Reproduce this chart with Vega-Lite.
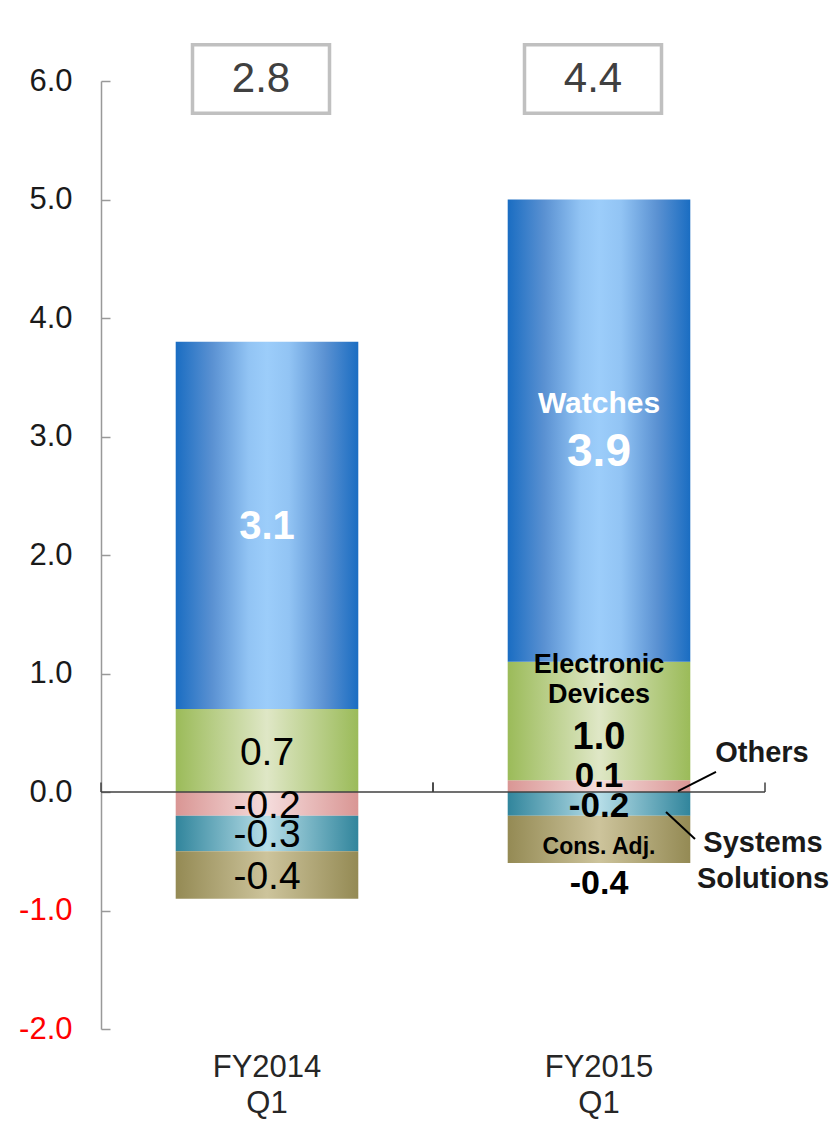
{
  "$schema": "https://vega.github.io/schema/vega-lite/v6.json",
  "width": 664,
  "height": 948,
  "autosize": {"type": "none"},
  "padding": {"left": 101, "top": 81, "right": 66, "bottom": 93},
  "background": "white",
  "config": {
    "view": {"stroke": null},
    "font": "Liberation Sans",
    "locale": {
      "number": {"decimal": ".", "thousands": ",", "grouping": [3], "currency": ["$", ""], "minus": "-"}
    }
  },
  "datasets": {
    "segments": [
      {"period": "FY2014 Q1", "segment": "Others", "value": -0.2, "stack_order": 1},
      {"period": "FY2014 Q1", "segment": "Electronic Devices", "value": 0.7, "stack_order": 2},
      {"period": "FY2014 Q1", "segment": "Systems Solutions", "value": -0.3, "stack_order": 2},
      {"period": "FY2014 Q1", "segment": "Watches", "value": 3.1, "stack_order": 3},
      {"period": "FY2014 Q1", "segment": "Cons. Adj.", "value": -0.4, "stack_order": 3},
      {"period": "FY2015 Q1", "segment": "Others", "value": 0.1, "stack_order": 1},
      {"period": "FY2015 Q1", "segment": "Electronic Devices", "value": 1.0, "stack_order": 2},
      {"period": "FY2015 Q1", "segment": "Systems Solutions", "value": -0.2, "stack_order": 2},
      {"period": "FY2015 Q1", "segment": "Watches", "value": 3.9, "stack_order": 3},
      {"period": "FY2015 Q1", "segment": "Cons. Adj.", "value": -0.4, "stack_order": 3}
    ],
    "totals": [
      {"period": "FY2014 Q1", "total": 2.8},
      {"period": "FY2015 Q1", "total": 4.4}
    ]
  },
  "layer": [
    {
      "data": {"name": "segments"},
      "transform": [
        {"stack": "value", "groupby": ["period"], "sort": [{"field": "stack_order", "order": "ascending"}], "as": ["v0", "v1"]}
      ],
      "mark": {"type": "bar", "width": {"band": 0.55}},
      "encoding": {
        "x": {
          "field": "period", "type": "nominal", "sort": ["FY2014 Q1", "FY2015 Q1"],
          "scale": {"paddingInner": 0, "paddingOuter": 0},
          "axis": {
            "title": null, "domain": false, "ticks": false, "labelAngle": 0,
            "labelFont": "Liberation Sans", "labelFontSize": 31, "labelColor": "#262626",
            "labelPadding": 23, "labelLineHeight": 36,
            "labelExpr": "split(datum.label, ' ')"
          }
        },
        "y": {
          "field": "v1", "type": "quantitative",
          "scale": {"domain": [-2, 6], "nice": false, "zero": false},
          "axis": {
            "title": null, "values": [-2, -1, 0, 1, 2, 3, 4, 5, 6], "format": ".1f", "grid": false,
            "domainColor": "#999999", "domainWidth": 1.5,
            "tickColor": "#999999", "tickWidth": 1.5, "tickSize": -9,
            "labelFont": "Liberation Sans", "labelFontSize": 31, "labelPadding": 38,
            "labelColor": {"condition": {"test": "datum.value < 0", "value": "#ff0000"}, "value": "#1a1a1a"}
          }
        },
        "y2": {"field": "v0"},
        "fill": {
          "condition": [
            {"test": "datum.segment === 'Watches'", "value": {"gradient": "linear", "x1": 0, "y1": 0, "x2": 1, "y2": 0, "stops": [
              {"offset": 0, "color": "#1a6dc2"}, {"offset": 0.2, "color": "#5a91d2"}, {"offset": 0.4, "color": "#92c4f4"},
              {"offset": 0.5, "color": "#9ccdfa"}, {"offset": 0.62, "color": "#92c4f4"}, {"offset": 0.82, "color": "#5a91d2"}, {"offset": 1, "color": "#1a6dc2"}]}},
            {"test": "datum.segment === 'Electronic Devices'", "value": {"gradient": "linear", "x1": 0, "y1": 0, "x2": 1, "y2": 0, "stops": [
              {"offset": 0, "color": "#9bbb59"}, {"offset": 0.5, "color": "#dfe7c6"}, {"offset": 1, "color": "#9bbb59"}]}},
            {"test": "datum.segment === 'Others'", "value": {"gradient": "linear", "x1": 0, "y1": 0, "x2": 1, "y2": 0, "stops": [
              {"offset": 0, "color": "#d99694"}, {"offset": 0.5, "color": "#f5dcdc"}, {"offset": 1, "color": "#d99694"}]}},
            {"test": "datum.segment === 'Systems Solutions'", "value": {"gradient": "linear", "x1": 0, "y1": 0, "x2": 1, "y2": 0, "stops": [
              {"offset": 0, "color": "#31859c"}, {"offset": 0.5, "color": "#b7dee8"}, {"offset": 1, "color": "#31859c"}]}}
          ],
          "value": {"gradient": "linear", "x1": 0, "y1": 0, "x2": 1, "y2": 0, "stops": [
            {"offset": 0, "color": "#948a54"}, {"offset": 0.5, "color": "#cdc49c"}, {"offset": 1, "color": "#948a54"}]}
        }
      }
    },
    {
      "data": {"values": [{}]},
      "mark": {"type": "rule", "color": "#404040", "strokeWidth": 1.5},
      "encoding": {"y": {"datum": 0, "type": "quantitative"}}
    },
    {
      "data": {"name": "totals"},
      "layer": [
        {
          "mark": {"type": "rule", "color": "#404040", "strokeWidth": 1.5},
          "encoding": {
            "x": {"field": "period", "type": "nominal", "bandPosition": 0},
            "y": {"datum": 0, "type": "quantitative"},
            "y2": {"datum": 0.08}
          }
        },
        {
          "mark": {"type": "rule", "color": "#404040", "strokeWidth": 1.5},
          "encoding": {
            "x": {"field": "period", "type": "nominal", "bandPosition": 1},
            "y": {"datum": 0, "type": "quantitative"},
            "y2": {"datum": 0.08}
          }
        }
      ]
    },
    {
      "data": {"values": [{}]},
      "layer": [
        {
          "mark": {"type": "rule", "color": "#000000", "strokeWidth": 2, "xOffset": 79, "x2Offset": 117},
          "encoding": {
            "x": {"datum": "FY2015 Q1", "type": "nominal"},
            "x2": {"datum": "FY2015 Q1"},
            "y": {"datum": 0.008, "type": "quantitative"},
            "y2": {"datum": 0.169}
          }
        },
        {
          "mark": {"type": "rule", "color": "#000000", "strokeWidth": 2, "xOffset": 67, "x2Offset": 96},
          "encoding": {
            "x": {"datum": "FY2015 Q1", "type": "nominal"},
            "x2": {"datum": "FY2015 Q1"},
            "y": {"datum": -0.169, "type": "quantitative"},
            "y2": {"datum": -0.397}
          }
        }
      ]
    },
    {
      "data": {"name": "segments"},
      "transform": [
        {"stack": "value", "groupby": ["period"], "sort": [{"field": "stack_order", "order": "ascending"}], "as": ["v0", "v1"]},
        {"fold": ["v0", "v1"], "as": ["edge", "pos"]},
        {"aggregate": [{"op": "mean", "field": "pos", "as": "mid"}], "groupby": ["period", "segment", "value"]}
      ],
      "encoding": {
        "x": {"field": "period", "type": "nominal"},
        "y": {"field": "mid", "type": "quantitative", "title": null}
      },
      "layer": [
        {
          "transform": [{"filter": "datum.period === 'FY2014 Q1' && datum.segment === 'Watches'"}],
          "mark": {"type": "text", "fontSize": 40, "fontWeight": "bold", "color": "white", "baseline": "middle", "dy": 2},
          "encoding": {"text": {"field": "value", "type": "quantitative", "format": ".1f"}}
        },
        {
          "transform": [{"filter": "datum.period === 'FY2014 Q1' && datum.segment !== 'Watches'"}],
          "mark": {"type": "text", "fontSize": 39, "color": "#000000", "baseline": "middle", "dy": 2},
          "encoding": {"text": {"field": "value", "type": "quantitative", "format": ".1f"}}
        },
        {
          "transform": [{"filter": "datum.period === 'FY2015 Q1' && datum.segment === 'Watches'"}],
          "mark": {"type": "text", "fontSize": 46, "fontWeight": "bold", "color": "white", "baseline": "middle", "dy": 21},
          "encoding": {"text": {"field": "value", "type": "quantitative", "format": ".1f"}}
        },
        {
          "transform": [{"filter": "datum.period === 'FY2015 Q1' && datum.segment === 'Watches'"}],
          "mark": {"type": "text", "fontSize": 30, "fontWeight": "bold", "color": "white", "baseline": "middle", "dy": -27},
          "encoding": {"text": {"field": "segment", "type": "nominal"}}
        },
        {
          "transform": [{"filter": "datum.period === 'FY2015 Q1' && datum.segment === 'Electronic Devices'"}],
          "mark": {"type": "text", "fontSize": 38, "fontWeight": "bold", "color": "#000000", "baseline": "middle", "dy": 17},
          "encoding": {"text": {"field": "value", "type": "quantitative", "format": ".1f"}}
        },
        {
          "transform": [{"filter": "datum.period === 'FY2015 Q1' && datum.segment === 'Electronic Devices'"}],
          "mark": {"type": "text", "fontSize": 27, "fontWeight": "bold", "color": "#000000", "baseline": "middle", "dy": -56, "lineBreak": " ", "lineHeight": 30},
          "encoding": {"text": {"field": "segment", "type": "nominal"}}
        },
        {
          "transform": [{"filter": "datum.period === 'FY2015 Q1' && datum.segment === 'Others'"}],
          "mark": {"type": "text", "fontSize": 35, "fontWeight": "bold", "color": "#000000", "baseline": "middle", "dy": -10},
          "encoding": {"text": {"field": "value", "type": "quantitative", "format": ".1f"}}
        },
        {
          "transform": [{"filter": "datum.period === 'FY2015 Q1' && datum.segment === 'Systems Solutions'"}],
          "mark": {"type": "text", "fontSize": 35, "fontWeight": "bold", "color": "#000000", "baseline": "middle", "dy": 2},
          "encoding": {"text": {"field": "value", "type": "quantitative", "format": ".1f"}}
        },
        {
          "transform": [{"filter": "datum.period === 'FY2015 Q1' && datum.segment === 'Cons. Adj.'"}],
          "mark": {"type": "text", "fontSize": 23, "fontWeight": "bold", "color": "#000000", "baseline": "middle", "dy": 8},
          "encoding": {"text": {"field": "segment", "type": "nominal"}}
        },
        {
          "transform": [{"filter": "datum.period === 'FY2015 Q1' && datum.segment === 'Cons. Adj.'"}],
          "mark": {"type": "text", "fontSize": 34, "fontWeight": "bold", "color": "#000000", "baseline": "middle", "dy": 45},
          "encoding": {"text": {"field": "value", "type": "quantitative", "format": ".1f"}}
        },
        {
          "transform": [{"filter": "datum.period === 'FY2015 Q1' && datum.segment === 'Others'"}],
          "mark": {"type": "text", "fontSize": 29, "fontWeight": "bold", "color": "#1a1a1a", "baseline": "middle", "dx": 163, "dy": -33},
          "encoding": {"text": {"field": "segment", "type": "nominal"}}
        },
        {
          "transform": [{"filter": "datum.period === 'FY2015 Q1' && datum.segment === 'Systems Solutions'"}],
          "mark": {"type": "text", "fontSize": 29, "fontWeight": "bold", "color": "#1a1a1a", "baseline": "middle", "dx": 164, "dy": 39, "lineBreak": " ", "lineHeight": 36},
          "encoding": {"text": {"field": "segment", "type": "nominal"}}
        }
      ]
    },
    {
      "data": {"name": "totals"},
      "encoding": {
        "x": {"field": "period", "type": "nominal"},
        "y": {"datum": 6, "type": "quantitative"}
      },
      "layer": [
        {
          "mark": {"type": "point", "shape": "M-1,-0.5H1V0.5H-1Z", "size": 18769, "filled": true, "fill": "white", "stroke": "#c0c0c0", "strokeWidth": 3.5, "opacity": 1, "xOffset": -6, "yOffset": -2}
        },
        {
          "mark": {"type": "text", "fontSize": 42, "color": "#404040", "baseline": "middle", "dx": -6, "dy": -2},
          "encoding": {"text": {"field": "total", "type": "quantitative", "format": ".1f"}}
        }
      ]
    }
  ]
}
